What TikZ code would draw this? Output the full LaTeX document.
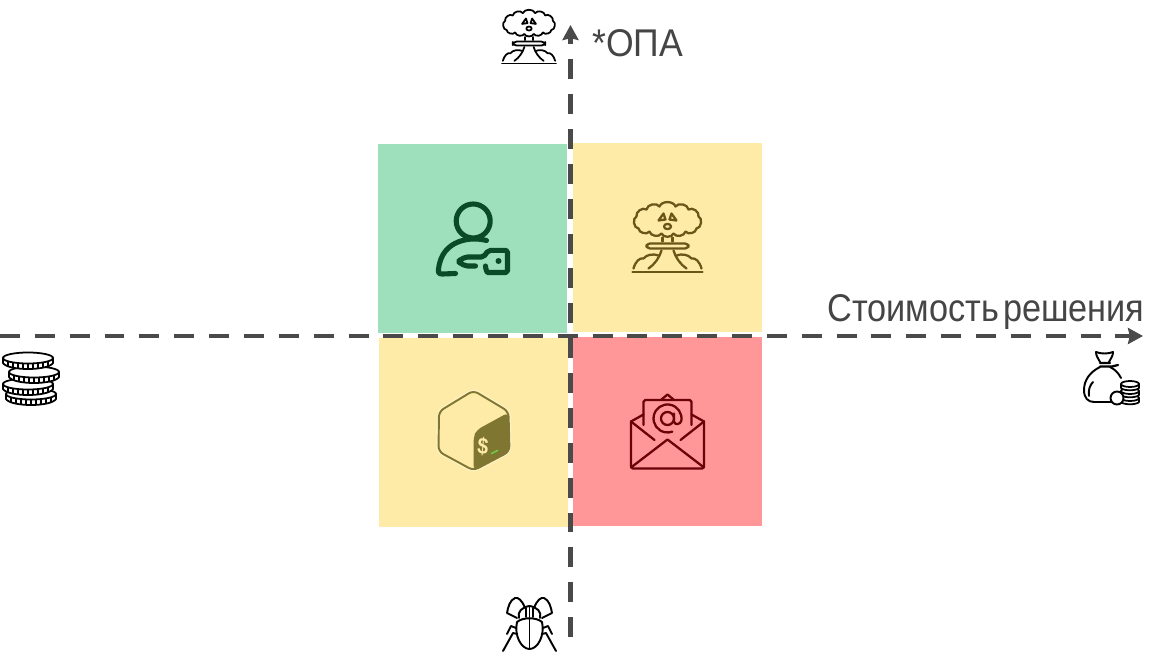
\documentclass[tikz,border=0pt]{standalone}
\usepackage{fontspec}
\setmainfont{Liberation Sans}
\usetikzlibrary{arrows.meta}
\definecolor{axisgray}{HTML}{4A4A4A}
\definecolor{labelgray}{HTML}{454545}
\definecolor{boxgreen}{HTML}{9EE0BC}
\definecolor{boxyellow}{HTML}{FFEBA8}
\definecolor{boxred}{HTML}{FF9698}
\definecolor{keygreen}{HTML}{0B4A26}
\definecolor{blastbrown}{HTML}{6B5518}
\definecolor{bashdark}{HTML}{7F7632}
\definecolor{bashgreen}{HTML}{6FC840}
\definecolor{bashhalo}{HTML}{FFF3C8}
\definecolor{maildark}{HTML}{6A0208}
\tikzset{
	quad/.style={minimum size=189*0.02cm,inner sep=0pt,outer sep=0pt},
	axisline/.style={draw=axisgray,line width=2.8pt,line cap=butt,dash pattern=on 11.34pt off 8.5pt,-{Stealth[length=15*0.02cm,width=16*0.02cm,inset=1pt]}},
	axislabel/.style={text=labelgray,font=\fontsize{22}{24}\selectfont,inner sep=0pt,anchor=base west},
	blast/.pic={
		\draw (-29,-9) to[bend left=80] (-31,-21) to[bend left=70] (-21,-28) to[bend left=70] (-8,-31) to[bend left=70] (8,-31) to[bend left=70] (21,-28) to[bend left=70] (31,-21) to[bend left=80] (29,-9) to[bend left=70] (18,-6) to[bend left=70] (6,-4) to[bend left=70] (-6,-4) to[bend left=70] (-18,-6) to[bend left=70] (-29,-9);
		\draw (-9,-17) -- (-4,-24) -- (-2,-18) -- cycle;
		\draw (9,-17) -- (4,-24) -- (2,-18) -- cycle;
		\draw (0,-11) ellipse (3.5 and 2.6);
		\draw (-5,0) -- (-5,4) (5,0) -- (5,4);
		\draw[rounded corners=2pt] (-21,6) rectangle (21,11);
		\draw (-6,13) .. controls (-8,20) and (-13,27) .. (-19,31);
		\draw (6,13) .. controls (8,20) and (13,27) .. (19,31);
		\draw (-34,31) .. controls (-32,24) and (-28,20) .. (-24,21) .. controls (-21,17) and (-14,16) .. (-9,18);
		\draw (34,31) .. controls (32,24) and (28,20) .. (24,21) .. controls (21,17) and (14,16) .. (9,18);
		\draw (-35,34.5) -- (35,34.5);
	},
	keyuser/.pic={
		\draw (0.7,-17.5) circle (17);
		\draw (14,2) .. controls (0,-2) and (-31,0) .. (-34,31) .. controls (-34.5,35) and (-33,35.5) .. (-30,35.5) -- (-17,35);
		\draw[rounded corners=1.2pt] (3,27.5) -- (-7,27.5) -- (-15,23) -- (-7,18.5) -- (11,18.5) -- (16,11.8) -- (31,11.8) .. controls (33.5,11.8) and (35,13.5) .. (35,16) -- (35,30) .. controls (35,32.5) and (33.5,34) .. (31,34) -- (17,34) .. controls (15,34) and (13,31) .. (13,27.5);
		\fill (26,22.5) circle (3);
	},
	mailbox/.pic={
		\draw[rounded corners=1pt] (-36.5,-10) -- (-36.5,37) -- (36.5,37) -- (36.5,-10);
		\draw (-36.5,-10) -- (-13,8.5) (36.5,-10) -- (13,8.5);
		\draw (-36.5,36) -- (0,8) -- (36.5,36);
		\draw[rounded corners=1pt] (-24,-6.5) -- (-24,-31.5) -- (24,-31.5) -- (24,-6.5);
		\draw (-36.5,-10) -- (-24,-17) (36.5,-10) -- (24,-17);
		\draw (-6,-32) -- (0,-37) -- (6,-32);
		\draw (0,-13) circle (6.5);
		\draw (6.5,-18) -- (6.5,-10) .. controls (7,-6) and (13,-7) .. (13.8,-10.6) arc[start angle=10,end angle=-290,radius=14];
	},
	coin/.pic={
		\filldraw[fill=white] (-25,0) -- (-25,5) .. controls (-20,13) and (20,13) .. (25,5) -- (25,0) -- cycle;
		\foreach \px in {-20,-15,...,20}{
			\pgfmathsetmacro\py{5.5*sqrt(1-(\px/25)^2)}
			\draw (\px,\py) -- (\px,\py+5);
		}
		\draw[fill=white] (0,0) ellipse (25 and 5.5);
	},
	stack/.pic={
		\filldraw[fill=white] (-9,0) -- (-9,4) .. controls (-7,7) and (7,7) .. (9,4) -- (9,0) -- cycle;
		\draw[fill=white] (0,0) ellipse (9 and 3);
	},
}
\begin{document}
\begin{tikzpicture}[x=0.02cm,y=-0.02cm,line cap=round,line join=round]
	\useasboundingbox (0,0) rectangle (1149,655);
	\fill[white] (0,0) rectangle (1149,655);
	% quadrants
	\node[quad,fill=boxgreen] (accessbox) at (472.5,238.5) {};
	\node[quad,fill=boxyellow] (blastbox) at (667.5,237.5) {};
	\node[quad,fill=boxyellow] (bashbox) at (473.5,432.5) {};
	\node[quad,fill=boxred] (mailbox) at (667.5,431.5) {};
	% axes
	\coordinate (xstart) at (0,336);
	\coordinate (xend) at (1143,336);
	\coordinate (ystart) at (570.5,637);
	\coordinate (yend) at (570.5,25);
	\draw[axisline] (xstart) -- (xend);
	\draw[axisline] (ystart) -- (yend);
	\node[axislabel,xscale=0.92] (ylabel) at (592,57) {*ОПА};
	\node[axislabel,xscale=0.887] (xlabel) at (827,321) {Стоимость\hspace{0.12em}решения};
	% quadrant icons
	\pic[draw=keygreen,fill=keygreen,line width=2.9pt] at (accessbox.center) {keyuser};
	\pic[draw=blastbrown,fill=blastbrown,line width=1.3pt] at (blastbox.center) {blast};
	\pic[draw=maildark,line width=1.3pt] at (mailbox.center) {mailbox};
	% bash icon
	\begin{scope}[shift={(bashbox.center)}]
		\draw[draw=bashhalo,line width=2.4pt,rounded corners=3pt] (0,-42) -- (35,-21) -- (36,19) -- (0,38) -- (-35,19) -- (-34.5,-21) -- cycle;
		\draw[draw=bashdark,line width=1.1pt,rounded corners=3pt,fill=boxyellow] (0,-42) -- (35,-21) -- (36,19) -- (0,38) -- (-35,19) -- (-34.5,-21) -- cycle;
		\fill[bashdark,rounded corners=3pt] (35,-20) -- (3,-2.5) -- (0,5) -- (0,38) -- (36,19) -- cycle;
		\node[text=boxyellow,font=\bfseries\fontsize{13}{13}\selectfont,inner sep=0pt,xscale=0.85,rotate=-6] (dollar) at (9.5,14) {\$};
		\draw[draw=bashgreen,line width=1pt] (18,21) -- (24,18);
	\end{scope}
	% axis end icons
	\pic[scale=0.77,draw=black,fill=black,line width=1pt] at (529,37) {blast};
	\pic[draw=black,line width=1pt] at (31,394) {coin};
	\pic[draw=black,line width=1pt] at (28,384) {coin};
	\pic[draw=black,line width=1pt] at (34,372) {coin};
	\pic[draw=black,line width=1pt] at (28,358) {coin};
	% money bag
	\draw[black,line width=1.1pt] (1100,367) .. controls (1090,372) and (1084,380) .. (1084,390) .. controls (1084,398) and (1088,402) .. (1094,402) -- (1112,402);
	\draw[black,line width=1.1pt] (1110,367) .. controls (1114,369) and (1118,372) .. (1121,378);
	\draw[black,line width=1.1pt] (1089,396) .. controls (1088,390) and (1090,385) .. (1093,382);
	\draw[black,line width=1.1pt] (1100,362) .. controls (1098,358) and (1096,356) .. (1096,352) .. controls (1101,354) and (1108,354) .. (1113,352) .. controls (1113,356) and (1111,358) .. (1109,362);
	\draw[black,line width=1.3pt] (1100,363) -- (1110,363) (1100,366.5) -- (1112,366.5) -- (1118,365);
	\pic[draw=black,line width=1pt] at (1130,398) {stack};
	\pic[draw=black,line width=1pt] at (1130,391) {stack};
	\pic[draw=black,line width=1pt] at (1130,384) {stack};
	\draw[black,fill=white,line width=1.1pt] (1117,398) circle (6.5);
	% bug
	\begin{scope}[black,line width=1.1pt]
		\draw (517,622) .. controls (514,635) and (521,649) .. (529.5,649) .. controls (538,649) and (545,635) .. (542,622) .. controls (536,617) and (523,617) .. (517,622) -- cycle;
		\draw (529.5,618) -- (529.5,649);
		\draw (519,618) .. controls (517,612) and (522,607) .. (529.5,606) .. controls (537,607) and (542,612) .. (540,618);
		\draw (526,608) -- (526,617) (533,608) -- (533,617) (529.5,606) -- (529.5,617);
		\draw (525,608) .. controls (522,600) and (518,597) .. (515,598) .. controls (510,600) and (508,607) .. (507,613) -- (517,618);
		\draw (534,608) .. controls (537,600) and (541,597) .. (544,598) .. controls (549,600) and (551,607) .. (552,613) -- (542,618);
		\draw (516,628) -- (511,626) -- (507,634) (543,628) -- (548,626) -- (552,634);
		\draw (517,634) -- (513,633) -- (503,651) (542,634) -- (546,633) -- (556,651);
	\end{scope}
\end{tikzpicture}
\end{document}
